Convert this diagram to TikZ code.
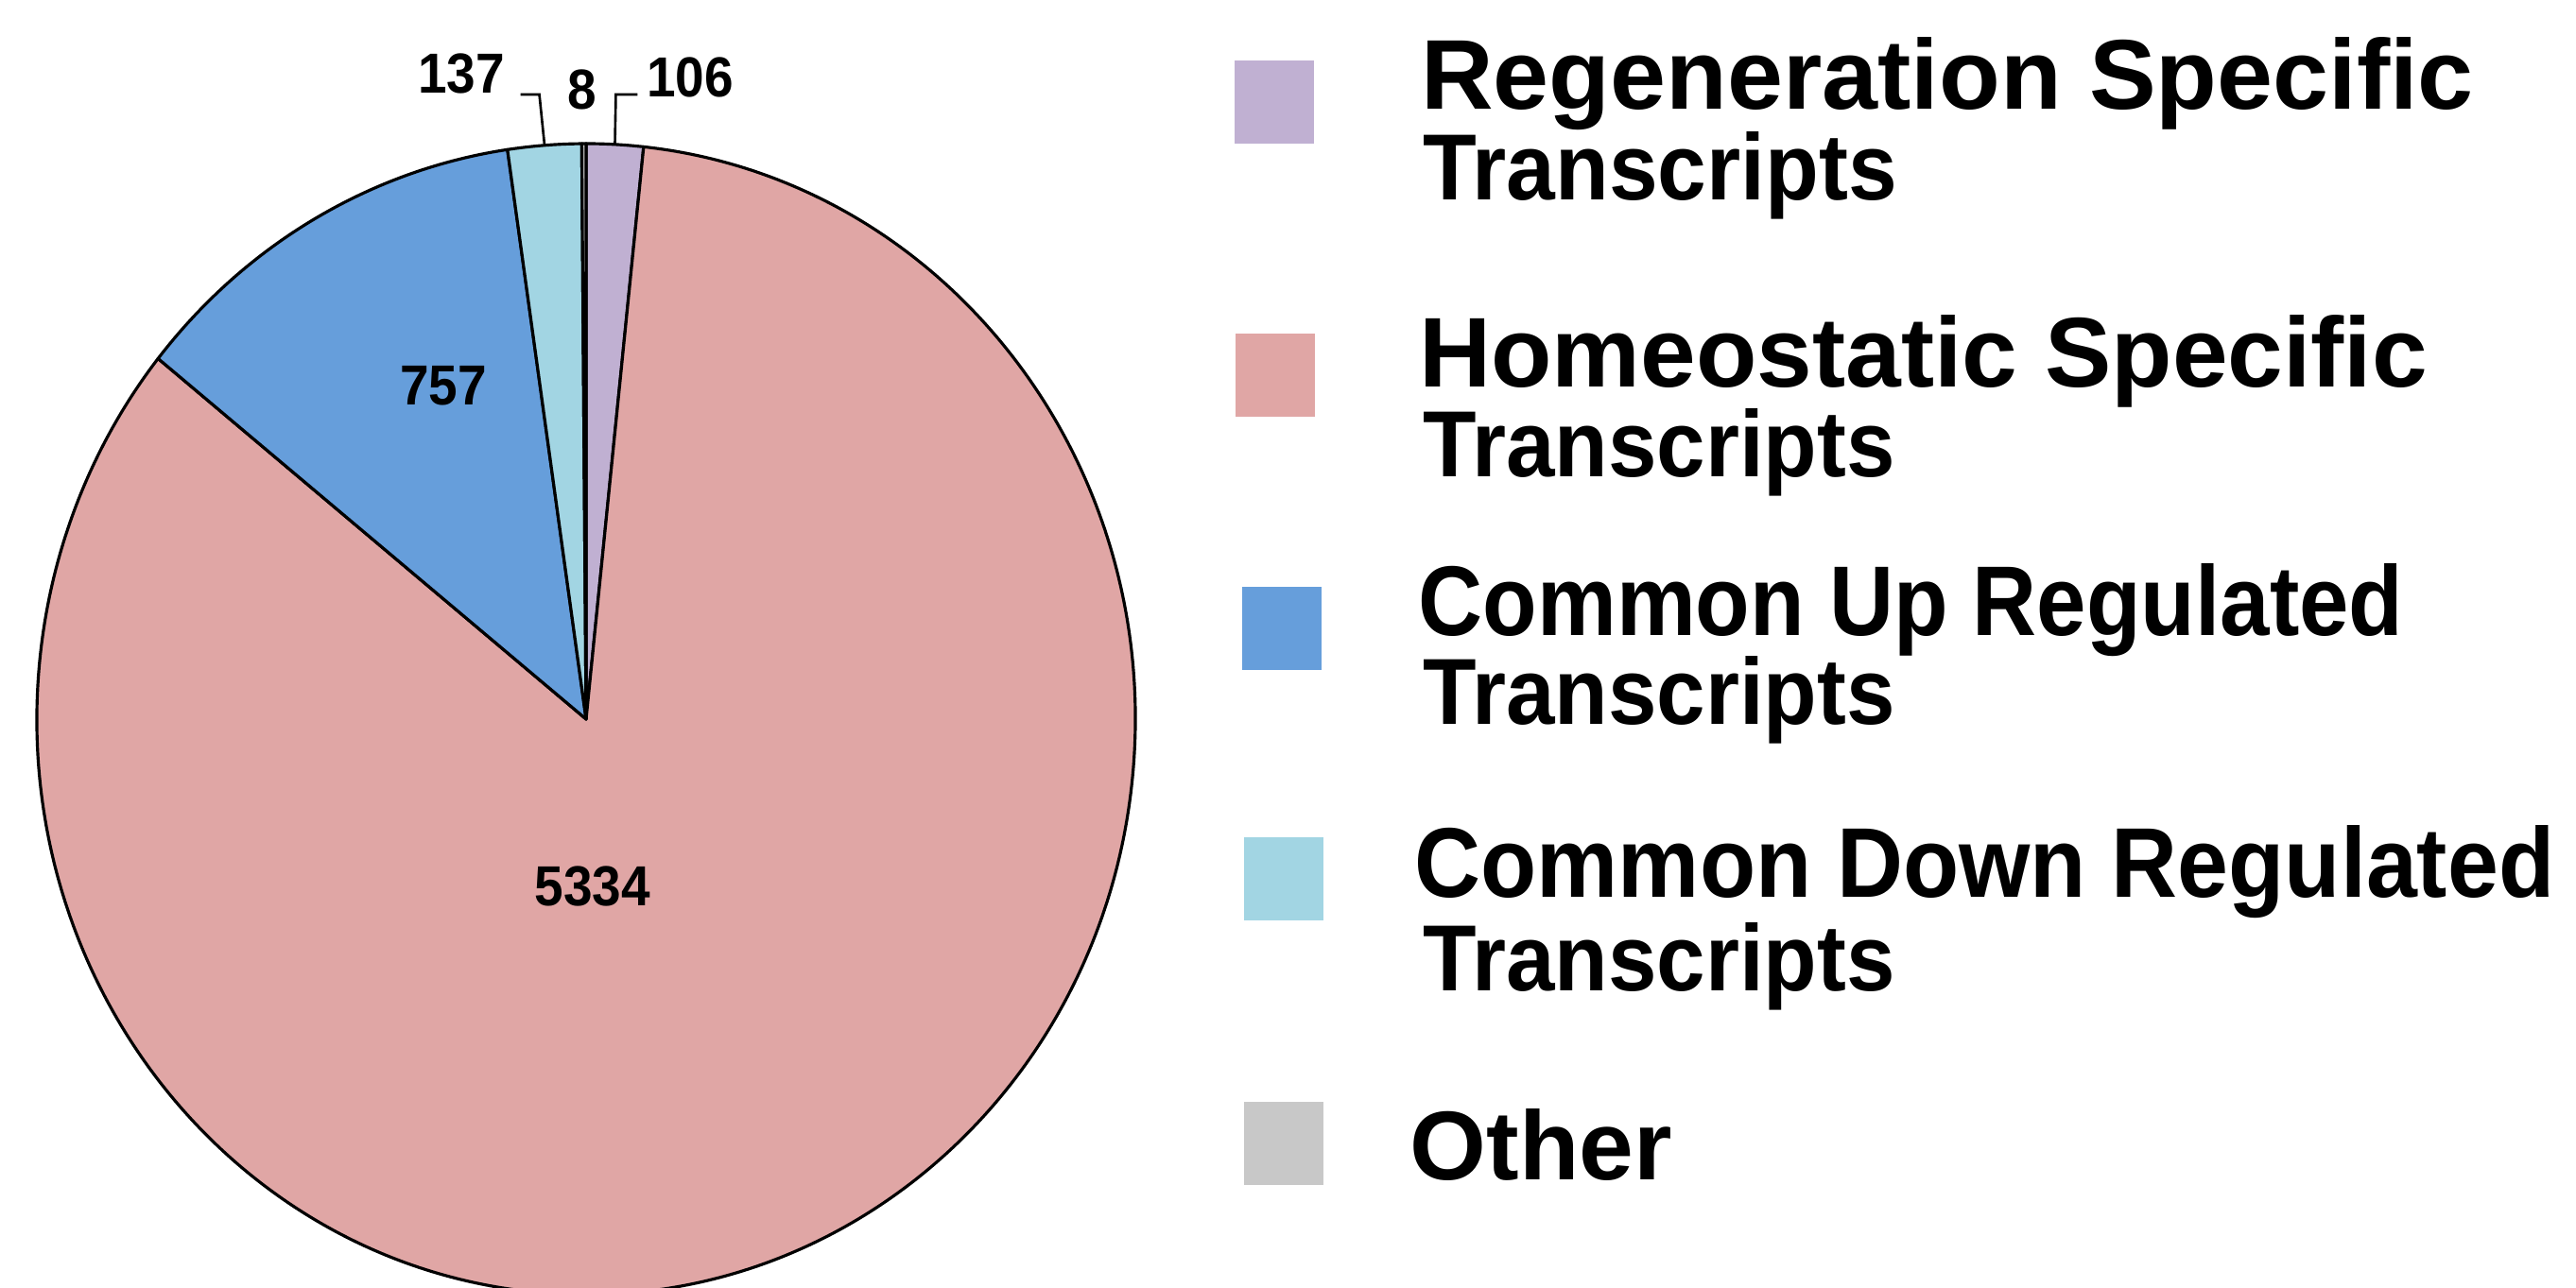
\documentclass[tikz,border=0pt]{standalone}
\usepackage{graphicx}
\usepackage{fontspec}
\setmainfont{Liberation Sans}
\usetikzlibrary{calc,positioning}
\definecolor{regen}{RGB}{192,176,210}
\definecolor{homeo}{RGB}{224,166,165}
\definecolor{upreg}{RGB}{102,158,219}
\definecolor{downreg}{RGB}{162,213,227}
\definecolor{othergray}{RGB}{200,200,200}
\tikzset{
     slice/.style = {draw=black, line width=0.9pt, line join=round},
     leader/.style = {black, line width=0.75pt},
     keybox/.style = {inner sep=0pt, minimum width=0.84cm, minimum height=0.88cm},
     keytext/.style = {inner sep=0pt, anchor=base west},
     count/.style = {inner sep=0pt, font=\bfseries\fontsize{17}{17}\selectfont},
    }
\newcommand{\keyline}[3]{\resizebox{#1cm}{#2cm}{\bfseries #3}}
\newcommand{\narrowed}[1]{\scalebox{0.92}[1]{#1}}

\begin{document}
\begin{tikzpicture}
            \useasboundingbox (0,0) rectangle (27.25,13.62);
            \coordinate (ctr) at (6.20,6.01);

            \foreach \from/\to/\col in {0/106/regen, 106/5440/homeo, 5440/6197/upreg, 6197/6334/downreg, 6334/6342/othergray}{
                \pgfmathsetmacro\angA{90-\from/6342*360}
                \pgfmathsetmacro\angB{90-\to/6342*360}
                \filldraw[slice, fill=\col] (ctr) -- ++(\angA:5.81 and 6.09)
                    arc[start angle=\angA, end angle=\angB, x radius=5.81, y radius=6.09] -- cycle;
            }
            \path (ctr) ++(86.99:5.81 and 6.09) coordinate (regenmid);
            \path (ctr) ++(-265.66:5.81 and 6.09) coordinate (downmid);

            \node [count] (n5334) at (6.27,4.245) {\narrowed{5334}};
            \node [count] (n757)  at (4.69,9.54)  {\narrowed{757}};
            \node [count] (n137)  at (4.88,12.84) {\narrowed{137}};
            \node [count] (n8)    at (6.16,12.67) {\narrowed{8}};
            \node [count] (n106)  at (7.30,12.80) {\narrowed{106}};

            \draw [leader] (n137.east) ++(0.16,-0.22) -- ++(0.20,0) -- (downmid);
            \draw [leader] (n106.west) ++(-0.09,-0.18) -- ++(-0.23,0) -- (regenmid);

            \node [keybox, fill=regen]     (kregen) at (13.48,12.54) {};
            \node [keybox, fill=homeo]     (khomeo) at (13.49,9.645) {};
            \node [keybox, fill=upreg]     (kup)    at (13.56,6.965) {};
            \node [keybox, fill=downreg]   (kdown)  at (13.58,4.32)  {};
            \node [keybox, fill=othergray] (kother) at (13.575,1.52) {};

            \node [keytext] (tregen)  at (15.025,12.46) {\keyline{11.135}{0.76}{Regeneration Specific}};
            \node [keytext] (tregenb) at (15.05,11.50)  {\keyline{5.01}{0.72}{Transcripts}};
            \node [keytext] (thomeo)  at (15.005,9.52)  {\keyline{10.665}{0.76}{Homeostatic Specific}};
            \node [keytext] (thomeob) at (15.05,8.57)   {\keyline{4.99}{0.72}{Transcripts}};
            \node [keytext] (tup)     at (15.00,6.89)   {\keyline{10.415}{0.76}{Common Up Regulated}};
            \node [keytext] (tupb)    at (15.05,5.95)   {\keyline{4.99}{0.72}{Transcripts}};
            \node [keytext] (tdown)   at (14.96,4.13)   {\keyline{12.055}{0.76}{Common Down Regulated}};
            \node [keytext] (tdownb)  at (15.05,3.13)   {\keyline{4.99}{0.72}{Transcripts}};
            \node [keytext] (tother)  at (14.91,1.14)   {\keyline{2.77}{0.75}{Other}};
      \end{tikzpicture}
\end{document}
